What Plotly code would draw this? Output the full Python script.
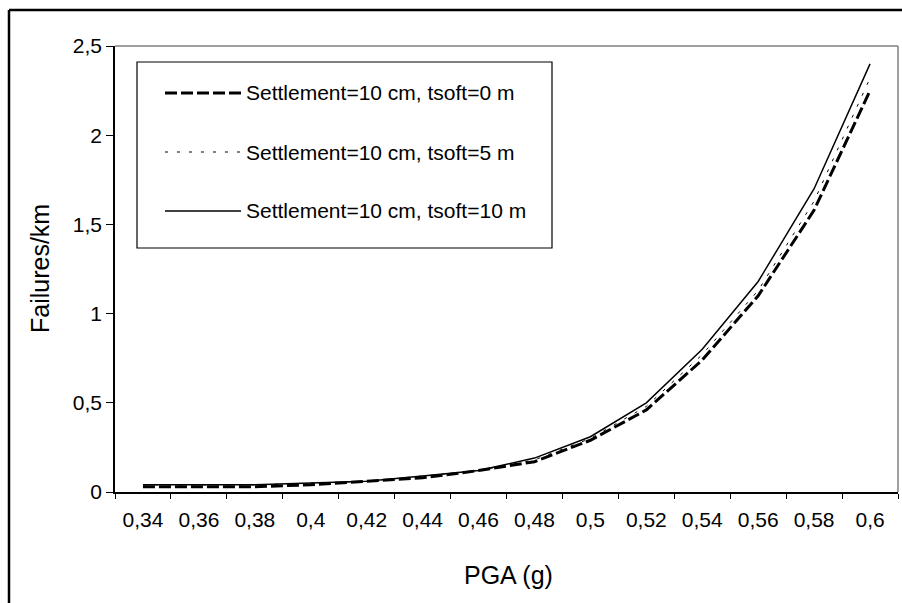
import plotly.graph_objects as go

# ---- data ----
pga_labels = ["0,34", "0,36", "0,38", "0,4", "0,42", "0,44", "0,46", "0,48",
              "0,5", "0,52", "0,54", "0,56", "0,58", "0,6"]
tsoft0 = [0.03, 0.03, 0.03, 0.04, 0.06, 0.08, 0.12, 0.17, 0.29, 0.46, 0.74, 1.10, 1.58, 2.25]
tsoft5 = [0.04, 0.04, 0.04, 0.05, 0.06, 0.09, 0.12, 0.18, 0.30, 0.48, 0.77, 1.13, 1.63, 2.32]
tsoft10 = [0.04, 0.04, 0.04, 0.05, 0.06, 0.09, 0.12, 0.19, 0.31, 0.50, 0.80, 1.18, 1.70, 2.40]
series_names = ["Settlement=10 cm, tsoft=0 m",
                "Settlement=10 cm, tsoft=5 m",
                "Settlement=10 cm, tsoft=10 m"]
y_tickvals = [0, 0.5, 1, 1.5, 2, 2.5]
y_ticktext = ["0", "0,5", "1", "1,5", "2", "2,5"]

W, H = 902, 603
ML, MR, MT, MB = 115, 4, 46, 111
PW, PH = W - ML - MR, H - MT - MB
FONT = "Arial, Liberation Sans, sans-serif"


def px(x):
    return (x - ML) / PW


def py(y):
    return (H - MB - y) / PH


styles = [
    dict(color="black", width=3, dash="12px,4px"),
    dict(color="black", width=1, dash="3px,9px"),
    dict(color="black", width=1.5, dash="solid"),
]

fig = go.Figure()
for name, vals, st in zip(series_names, [tsoft0, tsoft5, tsoft10], styles):
    fig.add_trace(go.Scatter(x=pga_labels, y=vals, mode="lines", name=name,
                             line=st, showlegend=False))

shapes = []
# plot area top & right border (gray)
shapes.append(dict(type="line", xref="paper", yref="paper", x0=0, x1=1, y0=1, y1=1,
                   line=dict(color="#808080", width=1.5)))
shapes.append(dict(type="line", xref="paper", yref="paper", x0=1, x1=1, y0=0, y1=1,
                   line=dict(color="#808080", width=1.5)))
# outer chart border (left & top visible)
shapes.append(dict(type="line", xref="paper", yref="paper", x0=px(9), x1=px(9), y0=py(10), y1=py(640),
                   line=dict(color="black", width=2.5)))
shapes.append(dict(type="line", xref="paper", yref="paper", x0=px(9), x1=px(940), y0=py(10), y1=py(10),
                   line=dict(color="black", width=2.5)))
# legend box
LX0, LX1, LY0, LY1 = 137, 552, 62, 248
shapes.append(dict(type="rect", xref="paper", yref="paper", x0=px(LX0), x1=px(LX1),
                   y0=py(LY1), y1=py(LY0), line=dict(color="black", width=1.2),
                   fillcolor="white", layer="above"))
entry_y = [93, 152, 211]
annotations = []
for name, st, ey in zip(series_names, styles, entry_y):
    shapes.append(dict(type="line", xref="paper", yref="paper", x0=px(165), x1=px(241),
                       y0=py(ey), y1=py(ey), line=st, layer="above"))
    annotations.append(dict(xref="paper", yref="paper", x=px(244), y=py(ey), text=name,
                            showarrow=False, xanchor="left", yanchor="middle",
                            font=dict(family=FONT, size=21, color="black")))

annotations.append(dict(xref="paper", yref="paper", x=px(508), y=py(575), text="PGA (g)",
                        showarrow=False, xanchor="center", yanchor="middle",
                        font=dict(family=FONT, size=25, color="black")))
annotations.append(dict(xref="paper", yref="paper", x=px(40), y=py(269), text="Failures/km",
                        showarrow=False, xanchor="center", yanchor="middle", textangle=-90,
                        font=dict(family=FONT, size=25, color="black")))

fig.update_layout(
    width=W, height=H,
    margin=dict(l=ML, r=MR, t=MT, b=MB),
    paper_bgcolor="white", plot_bgcolor="white",
    font=dict(family=FONT, size=21, color="black"),
    shapes=shapes, annotations=annotations,
    showlegend=False,
)
fig.update_xaxes(type="category", range=[-0.5, 13.5], tickson="boundaries",
                 ticks="outside", ticklen=5, tickcolor="black", tickwidth=1,
                 showline=True, linecolor="black", linewidth=1.5,
                 showgrid=False, zeroline=False, ticklabelstandoff=8,
                 tickfont=dict(family=FONT, size=21, color="black"))
fig.update_yaxes(range=[0, 2.5], tickvals=y_tickvals, ticktext=y_ticktext,
                 ticks="outside", ticklen=7, tickcolor="black", tickwidth=1,
                 showline=True, linecolor="black", linewidth=1.5,
                 showgrid=False, zeroline=False,
                 tickfont=dict(family=FONT, size=21, color="black"))

fig.write_html("out.html")
